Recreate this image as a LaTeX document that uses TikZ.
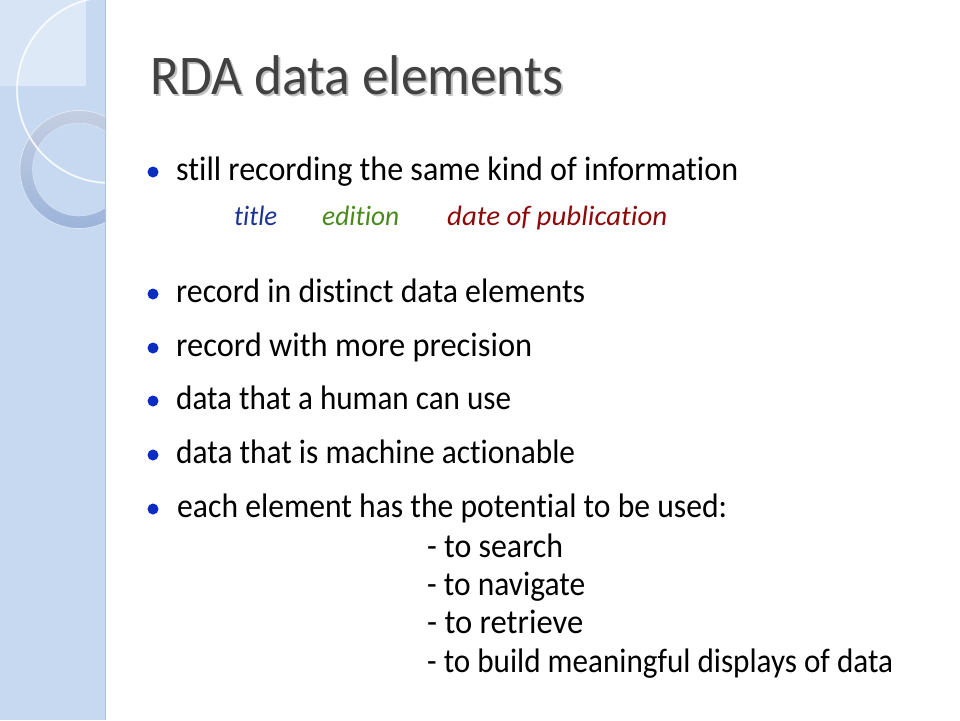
\documentclass[tikz,border=0pt]{standalone}
\usepackage{fontspec}
\setmainfont[Ligatures={NoCommon}]{Carlito}
\usepackage{graphicx}
\newcommand{\fitw}[2]{\resizebox{#1}{\height}{#2}}
\definecolor{stripblue}{HTML}{C6D9F1}
\definecolor{striplight}{HTML}{D6E4F5}
\definecolor{stripedge}{HTML}{AFC2DC}
\definecolor{ringtop}{HTML}{C4CEE1}
\definecolor{ringbot}{HTML}{9CB4DA}
\definecolor{bulletblue}{HTML}{0C2BC4}
\definecolor{ctitle}{HTML}{1C3494}
\definecolor{cedition}{HTML}{4A8A1C}
\definecolor{cdate}{HTML}{8C0A0A}
\definecolor{titlegray}{HTML}{414141}
\tikzset{
  body/.style={anchor=base west, inner sep=0pt, font=\fontsize{34}{36}\selectfont, text=black},
  ital/.style={anchor=base west, inner sep=0pt, font=\fontsize{28}{30}\selectfont\itshape},
  dot/.style={circle, fill=bulletblue, minimum size=11pt, inner sep=0pt},
  heading/.style={anchor=base west, inner sep=0pt, font=\fontsize{56}{58}\selectfont}
}
\begin{document}
\begin{tikzpicture}[x=1pt,y=-1pt]
\useasboundingbox (0,0) rectangle (960,720);
\fill[white] (0,0) rectangle (960,720);
% left strip
\begin{scope}
  \clip (0,0) rectangle (106,720);
  \fill[stripblue] (0,0) rectangle (106,720);
  \fill[striplight] (0,0) rectangle (86,86);
  \begin{scope}
    \clip (110,90) circle (93);
    \fill[white, opacity=0.2] (0,0) rectangle (86,86);
  \end{scope}
  \shade[top color=ringtop, bottom color=ringbot, even odd rule] (79,169.5) circle (59) (79,169.5) circle (46.5);
  \draw[white, line width=0.8pt, opacity=0.5] (79,169.5) circle (59);
  \draw[white, line width=0.6pt, opacity=0.4] (79,169.5) circle (46.5);
  \draw[white, line width=2.4pt, opacity=0.35] (110,90) circle (93);
  \draw[white, line width=1.2pt, opacity=0.9] (110,90) circle (93);
\end{scope}
\draw[stripedge, line width=1.5pt] (105.5,0) -- (105.5,720);
% title with shadow
\node[heading, text=black!35, opacity=0.7] (tshadow) at (152,96) {\fitw{413pt}{RDA data elements}};
\node[heading, text=titlegray] (title) at (150,94) {\fitw{413pt}{RDA data elements}};
% bullets
\node[dot] (d1) at (153,172) {};
\node[dot] (d2) at (153,294) {};
\node[dot] (d3) at (153,348) {};
\node[dot] (d4) at (153,401) {};
\node[dot] (d5) at (153,455) {};
\node[dot] (d6) at (153,509) {};
\node[body] (b1) at (176,180) {\fitw{562pt}{still recording the same kind of information}};
\node[ital, text=ctitle] (i1) at (234,225) {\fitw{43pt}{title}};
\node[ital, text=cedition] (i2) at (322,225) {\fitw{77pt}{edition}};
\node[ital, text=cdate] (i3) at (447,225) {\fitw{220pt}{date of publication}};
\node[body] (b2) at (176,302) {\fitw{409pt}{record in distinct data elements}};
\node[body] (b3) at (176,356) {\fitw{356pt}{record with more precision}};
\node[body] (b4) at (176,409) {\fitw{335pt}{data that a human can use}};
\node[body] (b5) at (176,463) {\fitw{399pt}{data that is machine actionable}};
\node[body] (b6) at (177,517) {\fitw{550pt}{each element has the potential to be used:}};
\node[body] (s1) at (427,557) {\fitw{136pt}{- to search}};
\node[body] (s2) at (427,595) {\fitw{158pt}{- to navigate}};
\node[body] (s3) at (427,633) {\fitw{156pt}{- to retrieve}};
\node[body] (s4) at (427,672) {\fitw{466pt}{- to build meaningful displays of data}};
\end{tikzpicture}
\end{document}
